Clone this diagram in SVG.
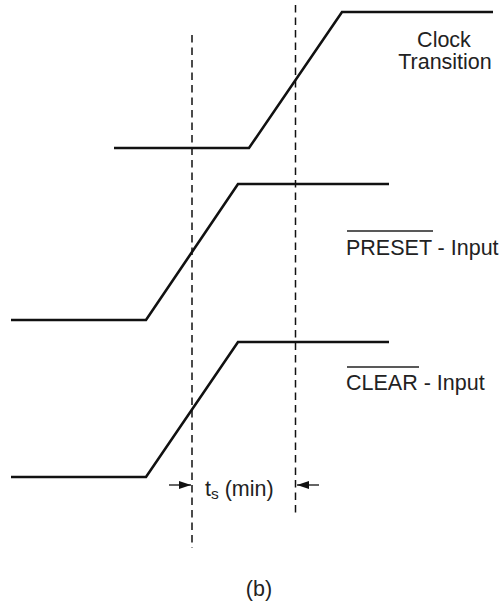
<svg xmlns="http://www.w3.org/2000/svg" width="504" height="606" viewBox="0 0 504 606">
<style>
.sig{fill:none;stroke:#111;stroke-width:2.6;stroke-linejoin:miter}
.dash{fill:none;stroke:#111;stroke-width:1.5;stroke-dasharray:7.5 5}
.arr{fill:none;stroke:#111;stroke-width:1.3}
.lbl{font-family:"Liberation Sans",Arial,sans-serif;font-size:21.5px;fill:#222}
.ovl{stroke:#222;stroke-width:1.3}
</style>
<defs>
<marker id="ah" viewBox="0 0 12 8" refX="12" refY="4" markerWidth="12" markerHeight="8" markerUnits="userSpaceOnUse" orient="auto">
<path d="M0,0 L12,4 L0,8 Z" fill="#111"/>
</marker>
</defs>
<rect width="504" height="606" fill="#fff"/>
<g id="connectors">
<line class="dash" x1="192" y1="35" x2="192" y2="548"/>
<line class="dash" x1="295.5" y1="5" x2="295.5" y2="517"/>
<line class="arr" x1="169" y1="485" x2="191" y2="485" marker-end="url(#ah)"/>
<line class="arr" x1="319" y1="485" x2="297" y2="485" marker-end="url(#ah)"/>
</g>
<g id="clock">
<polyline class="sig" points="114,148 249,148 342,12 493,12"/>
<text class="lbl" x="444" y="47" text-anchor="middle">Clock</text>
<text class="lbl" x="445" y="69" text-anchor="middle">Transition</text>
</g>
<g id="preset">
<polyline class="sig" points="11,320 146,320 238,184 389,184"/>
<line class="ovl" x1="347" y1="231" x2="433" y2="231"/>
<text class="lbl" x="346" y="255">PRESET - Input</text>
</g>
<g id="clear">
<polyline class="sig" points="11,477 146,477 238,342 389,342"/>
<line class="ovl" x1="347" y1="367" x2="419" y2="367"/>
<text class="lbl" x="346" y="390">CLEAR - Input</text>
</g>
<g id="ts">
<text class="lbl" x="205" y="496">t<tspan font-size="15.5" dy="3">s</tspan><tspan dy="-3"> (min)</tspan></text>
</g>
<g id="caption">
<text class="lbl" x="259" y="596" text-anchor="middle">(b)</text>
</g>
</svg>
